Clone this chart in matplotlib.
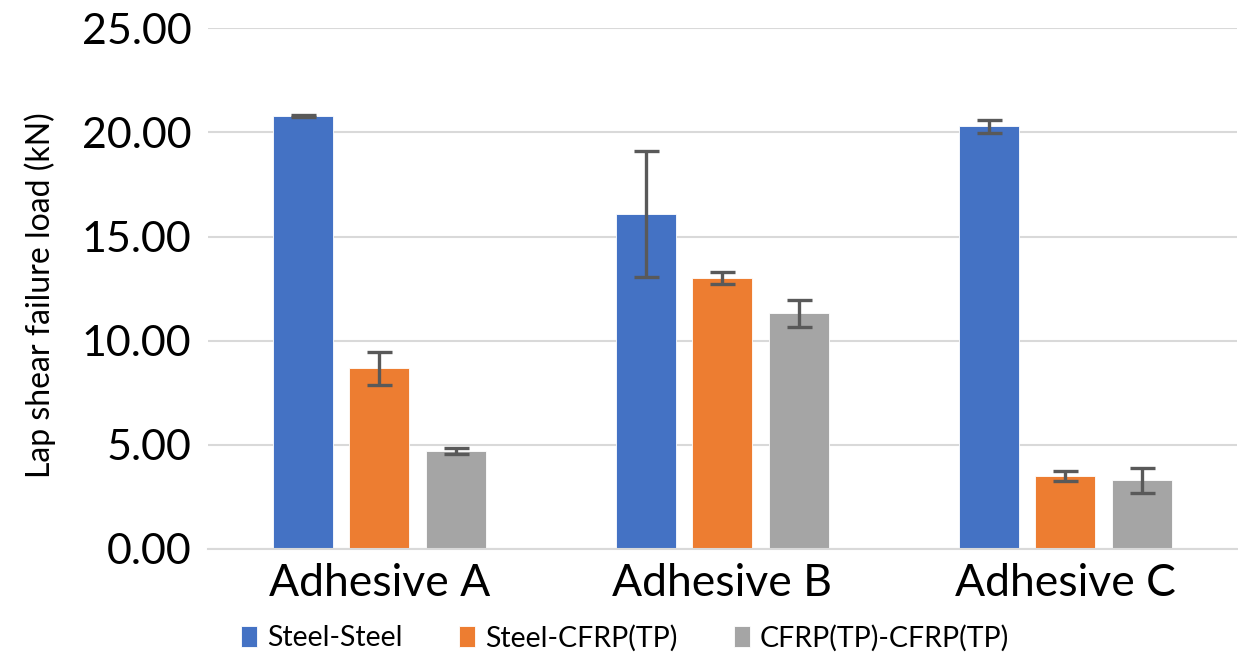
import matplotlib
matplotlib.use("Agg")
import matplotlib.pyplot as plt
import numpy as np

plt.rcParams['font.family'] = ['Lato', 'DejaVu Sans']

categories = ["Adhesive A", "Adhesive B", "Adhesive C"]
series_names = ["Steel-Steel", "Steel-CFRP(TP)", "CFRP(TP)-CFRP(TP)"]
steel_steel = [20.77, 16.07, 20.29]
steel_cfrp = [8.68, 13.00, 3.50]
cfrp_cfrp = [4.70, 11.32, 3.31]
steel_steel_err = [0.05, 3.02, 0.33]
steel_cfrp_err = [0.79, 0.28, 0.24]
cfrp_cfrp_err = [0.16, 0.64, 0.60]
y_ticks = [0, 5, 10, 15, 20, 25]

colors = ["#4472C4", "#ED7D31", "#A5A5A5"]
values = [steel_steel, steel_cfrp, cfrp_cfrp]
errors = [steel_steel_err, steel_cfrp_err, cfrp_cfrp_err]

fig = plt.figure(figsize=(12.38, 6.59), dpi=100)
ax = fig.add_axes([0.168, 0.167, 0.831, 0.79])

x = np.arange(len(categories))
width = 0.175
step = 0.223
for i, (vals, errs, col, name) in enumerate(zip(values, errors, colors, series_names)):
    ax.bar(x + (i - 1) * step, vals, width, color=col, label=name, zorder=2,
           edgecolor="white", linewidth=0.6,
           yerr=errs, error_kw=dict(ecolor="#595959", elinewidth=2.4, capsize=9, capthick=2.4, zorder=3))

ax.set_xlim(-0.5, 2.5)
ax.set_ylim(0, 25)
ax.set_yticks(y_ticks)
ax.set_yticklabels([f"{v:.2f}" for v in y_ticks], fontsize=31)
ax.set_xticks(x)
ax.set_xticklabels(categories, fontsize=32)
ax.tick_params(axis='y', length=0, pad=12)
ax.tick_params(axis='x', length=0, pad=10)
ax.grid(axis='y', color="#D9D9D9", linewidth=1.5, zorder=0)
ax.set_axisbelow(True)
for s in ["top", "right", "left"]:
    ax.spines[s].set_visible(False)
ax.spines["bottom"].set_color("#D9D9D9")
ax.spines["bottom"].set_linewidth(1.5)

fig.text(40 / 1238, 1 - 295 / 659, "Lap shear failure load (kN)", rotation=90,
         ha="center", va="center", fontsize=23)

fig.legend(loc="center", bbox_to_anchor=(0.505, 1 - 638 / 659), ncol=3, frameon=False,
           fontsize=20.5, handlelength=0.55, handleheight=0.75, handletextpad=0.35,
           columnspacing=2.0)

fig.savefig("out.png", dpi=100, facecolor="white")
